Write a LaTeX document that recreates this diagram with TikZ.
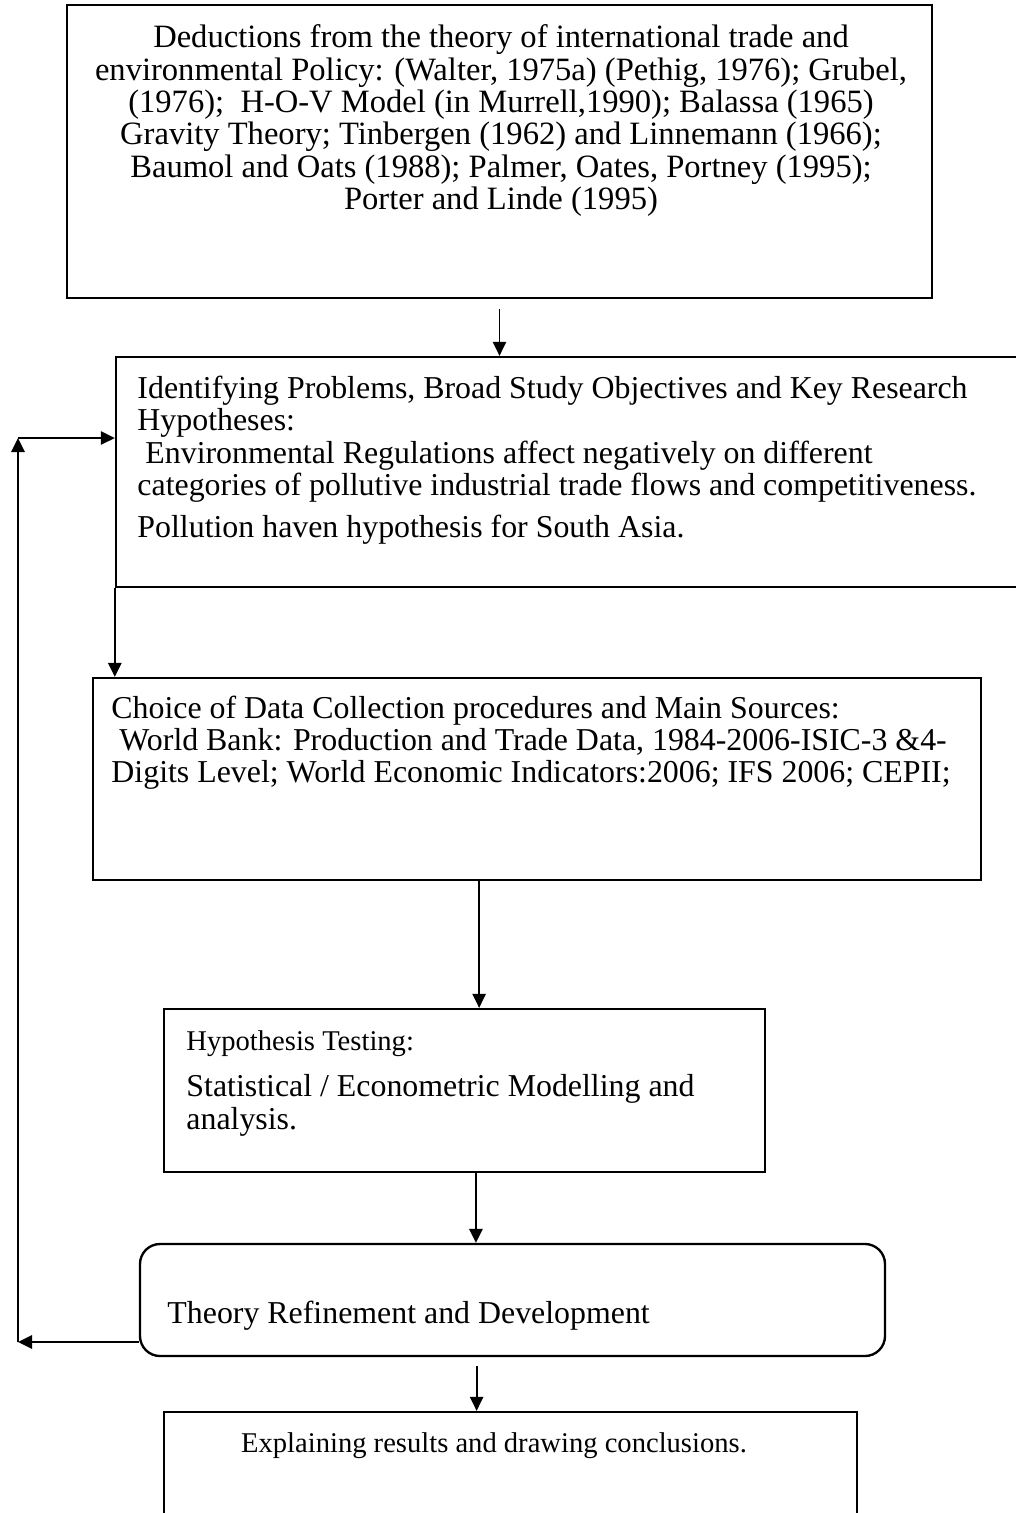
\documentclass[tikz,border=0pt]{standalone}
\usepackage{fontspec}
\setmainfont{Liberation Serif}
\usetikzlibrary{arrows.meta,fit,calc}
\begin{document}
\begin{tikzpicture}[x=0.15mm,y=-0.15mm,
  boxshape/.style={draw, line width=1pt, inner sep=0pt},
  txt/.style={inner sep=0pt, font=\fontsize{13.6}{13.8}\selectfont},
  txtbig/.style={inner sep=0pt, font=\fontsize{13.9}{13.8}\selectfont},
  txtsmall/.style={inner sep=0pt, font=\fontsize{12.2}{13.8}\selectfont},
  conn/.style={line width=0.8pt, -{Triangle[length=2.1mm,width=2mm]}}]
\useasboundingbox (0,0) rectangle (1016,1513);
\clip (0,0) rectangle (1016,1513);

% boxes
\node[boxshape, fit={(67,5) (932,298)}] (b1) {};
\node[boxshape, fit={(116,357) (1060,587)}] (b2) {};
\node[boxshape, fit={(93,678) (981,880)}] (b3) {};
\node[boxshape, fit={(164,1009) (765,1172)}] (b4) {};
\node[boxshape, rounded corners=3mm, fit={(140,1244) (885,1356)}] (b5) {};
\node[boxshape, fit={(164,1412) (857,1580)}] (b6) {};

% texts
\node[txtbig, anchor=north, align=center] (t1) at (501,24.4) {\strut Deductions from the theory of international trade and\\
environmental Policy: (Walter, 1975a) (Pethig, 1976); Grubel,\\
(1976);~ H-O-V Model (in Murrell,1990); Balassa (1965)\\
Gravity Theory; Tinbergen (1962) and Linnemann (1966);\\
Baumol and Oats (1988); Palmer, Oates, Portney (1995);\\
Porter and Linde (1995)};

\node[txt, anchor=north west, align=left] (t2) at (137,375.4) {\strut Identifying Problems, Broad Study Objectives and Key Research\\
Hypotheses:\\
\hspace*{0.25em}Environmental Regulations affect negatively on different\\
categories of pollutive industrial trade flows and competitiveness.\\[4pt]
Pollution haven hypothesis for South Asia.};

\node[txt, anchor=north west, align=left] (t3) at (111,695) {\strut Choice of Data Collection procedures and Main Sources:\\
\hspace*{0.25em}World Bank: Production and Trade Data, 1984-2006-ISIC-3 \&4-\\
Digits Level; World Economic Indicators:2006; IFS 2006; CEPII;};

\node[txt, anchor=north west, align=left] (t4) at (186,1027.4) {\strut{\fontsize{12.2}{13.8}\selectfont Hypothesis Testing:}\\[6pt]
Statistical / Econometric Modelling and\\
analysis.};

\node[txt, anchor=base west] (t5) at (167,1323) {Theory Refinement and Development};

\node[txtsmall, anchor=base] (t6) at (494,1452) {Explaining results and drawing conclusions.};

% connectors
\draw[conn] ([yshift=-1.5mm]b1.south) -- (b2.north -| b1.south);
\draw[conn] (b2.south west) -- (b3.north -| b2.south west);
\coordinate (s34) at ($(b3.south west)!0.435!(b3.south east)$);
\draw[conn] (s34) -- (s34 |- b4.north);
\coordinate (s45) at ($(b4.south west)!0.519!(b4.south east)$);
\draw[conn] (s45) -- (s45 |- b5.north);
\coordinate (s56) at ($(b5.south west)!0.452!(b5.south east)+(0,9)$);
\draw[conn] (s56) -- (s56 |- b6.north);

\coordinate (c1) at (18,1342);
\coordinate (c2) at (18,438);
\draw[conn] (b5.west |- c1) -- (c1);
\draw[conn] (c1) -- (c2);
\draw[conn] (c2) -- (c2 -| b2.west);
\end{tikzpicture}
\end{document}
